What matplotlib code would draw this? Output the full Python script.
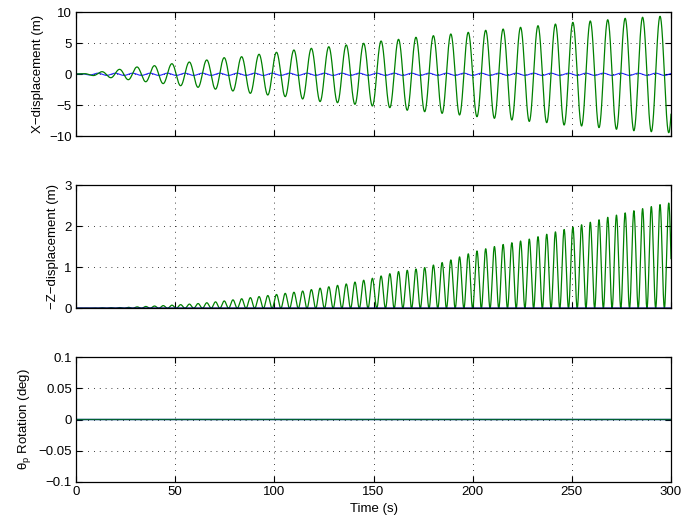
import numpy as np
import matplotlib
matplotlib.use("Agg")
import matplotlib.pyplot as plt

plt.rcParams['font.family'] = ['Liberation Sans', 'DejaVu Sans']
plt.rcParams['mathtext.fontset'] = 'custom'
plt.rcParams['mathtext.rm'] = 'Liberation Sans'
plt.rcParams['mathtext.it'] = 'Liberation Sans'

# ---------------- data ----------------
period = 8.79  # s, oscillation period of the X motion

# X displacement: value at t=0 and first tiny crest
x_start = [0.05, 0.1]
# successive X crests (m), one per cycle (last one lies just beyond 300 s)
x_peaks = [0.42, 0.8, 1.18, 1.39, 1.71, 1.98, 2.31, 2.68,
           2.84, 3.23, 3.55, 3.92, 4.19, 4.45, 4.73, 5.0, 5.37,
           5.64, 5.97, 6.23, 6.5, 6.77, 7.1, 7.3, 7.58, 7.84,
           8.1, 8.38, 8.6, 8.8, 9.03, 9.2, 9.35, 9.5]
# successive X troughs (m), one per cycle
x_troughs = [-0.2, -0.55, -0.87, -1.2, -1.5, -1.84, -2.1, -2.4,
             -2.69, -3.07, -3.34, -3.6, -3.98, -4.4, -4.58, -4.84, -5.11,
             -5.38, -5.8, -6.03, -6.3, -6.56, -6.84, -7.1, -7.37, -7.6,
             -7.8, -8.18, -8.34, -8.6, -8.87, -9.1, -9.26, -9.42]

# second (blue) X trace: small ripple amplitude (m)
x_blue_amp = 0.18

# -Z displacement: crest heights read at these times
z_env_t = [0, 25, 50, 63, 75, 88, 100, 113, 123, 136, 148.6, 162, 175,
           188, 201, 214, 227.5, 241, 254, 267, 280, 294, 300]
z_env_v = [0.0, 0.02, 0.08, 0.12, 0.18, 0.26, 0.33, 0.41, 0.49, 0.59, 0.72,
           0.89, 0.98, 1.16, 1.38, 1.54, 1.67, 1.85, 2.02, 2.2, 2.36, 2.52, 2.57]

# rotation: both traces stay at zero
rot_value = 0.0

x_ticks = [0, 50, 100, 150, 200, 250, 300]

# ---------------- build traces ----------------
t = np.linspace(0, 300, 9001)

ext_t = [0.0, 0.5 * period]
ext_v = list(x_start)
for k in range(len(x_troughs)):
    ext_t.append((k + 1) * period)
    ext_v.append(x_troughs[k])
    if k < len(x_peaks):
        ext_t.append((k + 1.5) * period)
        ext_v.append(x_peaks[k])
ext_t = np.array(ext_t)
ext_v = np.array(ext_v)
idx = np.clip(np.searchsorted(ext_t, t, side='right') - 1, 0, len(ext_t) - 2)
s = (t - ext_t[idx]) / (ext_t[idx + 1] - ext_t[idx])
x_green = ext_v[idx] + (ext_v[idx + 1] - ext_v[idx]) * (1 - np.cos(np.pi * s)) / 2

ramp = np.clip(t / 10.0, 0, 1)
x_blue = 0.05 * (1 - ramp) + x_blue_amp * ramp * np.sin(2 * np.pi * t / period)

z_green = np.interp(t, z_env_t, z_env_v) * np.cos(2 * np.pi * t / period) ** 2
z_blue = np.zeros_like(t)

r_blue = np.full_like(t, rot_value)
r_green = np.full_like(t, rot_value)

# ---------------- figure ----------------
fig = plt.figure(figsize=(6.85, 5.23), dpi=100)
W, H = 685.0, 523.0
left = 76 / W
width = 595 / W
ax1 = fig.add_axes([left, 1 - 136.3 / H, width, 124 / H])
ax2 = fig.add_axes([left, 1 - 308.3 / H, width, 123.3 / H])
ax3 = fig.add_axes([left, 1 - 481.7 / H, width, 124.4 / H])

green = '#008000'
blue = '#0000ff'

ax1.plot(t, x_blue, color=blue, lw=0.8, alpha=0.85)
ax1.plot(t, x_green, color=green, lw=0.9)
ax2.plot(t, z_green, color=green, lw=0.9)
ax2.plot(t, z_blue, color='#000080', lw=1.3)
ax3.plot(t, r_blue, color=blue, lw=0.9)
ax3.plot(t, r_green, color='#006030', lw=1.0)

ax1.set_ylim(-10, 10)
ax1.set_yticks([-10, -5, 0, 5, 10])
ax1.set_yticklabels(['\u221210', '\u22125', '0', '5', '10'])
ax1.set_ylabel('X\u2212displacement (m)')

ax2.set_ylim(0, 3)
ax2.set_yticks([0, 1, 2, 3])
ax2.set_yticklabels(['0', '1', '2', '3'])
ax2.set_ylabel('\u2212Z\u2212displacement (m)')

ax3.set_ylim(-0.1, 0.1)
ax3.set_yticks([-0.1, -0.05, 0, 0.05, 0.1])
ax3.set_yticklabels(['\u22120.1', '\u22120.05', '0', '0.05', '0.1'])
ax3.set_ylabel('\u03b8$_{\\mathregular{p}}$ Rotation (deg)')
ax3.set_xlabel('Time (s)', labelpad=4)

for ax in (ax1, ax2, ax3):
    ax.set_xlim(0, 300)
    ax.set_xticks(x_ticks)
    ax.grid(True, color='black', linestyle=(0, (1, 6)), linewidth=0.6)
    ax.tick_params(direction='in', length=4, width=0.8, top=True, right=True,
                   labelsize=9.5, pad=3, colors='black')
    for sp in ax.spines.values():
        sp.set_linewidth(0.9)
    ax.yaxis.label.set_size(9.5)
    ax.xaxis.label.set_size(9.5)
for ax in (ax1, ax2):
    ax.set_xticklabels([])
ax3.set_xticklabels([str(v) for v in x_ticks])

fig.savefig('out.png', dpi=100)
